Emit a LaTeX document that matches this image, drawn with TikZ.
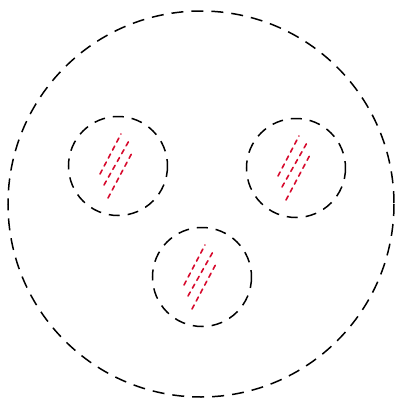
\documentclass[tikz,border=0pt]{standalone}
\definecolor{redline}{RGB}{215,10,45}
\begin{document}
\begin{tikzpicture}[x=1pt,y=-1pt,
  bigdash/.style={draw=black,line width=1.5pt,dash pattern=on 12pt off 8pt},
  smalldash/.style={draw=black,line width=1.5pt,dash pattern=on 11pt off 8pt},
  reddash/.style={draw=redline,line width=1.6pt,line cap=round,dash pattern=on 4.5pt off 4.5pt},
]
\useasboundingbox (0,0) rectangle (397,400);
\draw[bigdash] (201,204) circle (193);
\foreach \n/\cx/\cy in {L/118/166, R/296/168, B/202/277}{
  \coordinate (c\n) at (\cx,\cy);
  \draw[smalldash] (c\n) circle (49.5);
  \draw[reddash] ([shift={(-18,8)}]c\n) -- ([shift={(3,-32)}]c\n);
  \draw[reddash] ([shift={(-14,19)}]c\n) -- ([shift={(12,-27)}]c\n);
  \draw[reddash] ([shift={(-10,32)}]c\n) -- ([shift={(15,-15)}]c\n);
}
\end{tikzpicture}
\end{document}
